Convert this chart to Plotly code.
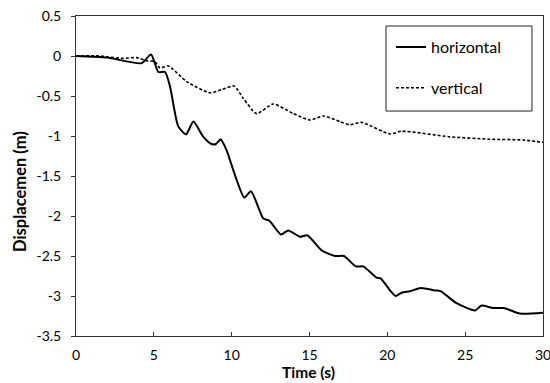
import plotly.graph_objects as go

# Horizontal displacement (m) vs time (s)
h_time = [0, 2.0, 4.22, 4.82, 5.29, 5.72, 6.04, 6.57, 7.07, 7.54, 8.18, 8.71, 8.99, 9.29,
          9.68, 9.89, 10.32, 10.81, 11.24, 12.03, 12.42, 13.17, 13.64, 14.39, 14.86, 15.78,
          16.63, 17.21, 17.98, 18.45, 19.31, 19.57, 20.17, 20.53, 20.92, 21.45, 22.16, 23.06,
          23.42, 24.45, 25.63, 26.05, 26.80, 27.49, 28.52, 30.0]
h_disp = [0, -0.02, -0.09, 0.02, -0.20, -0.20, -0.38, -0.88, -0.98, -0.82, -1.01, -1.10, -1.10, -1.04,
          -1.18, -1.30, -1.55, -1.77, -1.69, -2.03, -2.06, -2.23, -2.18, -2.26, -2.24, -2.43,
          -2.50, -2.50, -2.63, -2.63, -2.77, -2.78, -2.93, -3.00, -2.96, -2.94, -2.90, -2.93,
          -2.94, -3.09, -3.18, -3.12, -3.15, -3.15, -3.22, -3.21]

# Vertical displacement (m) vs time (s)
v_time = [0, 1.5, 3.0, 3.9, 4.54, 5.07, 5.39, 5.93, 7.11, 8.6, 9.36, 10.15, 10.75, 11.6,
          12.67, 13.96, 15.03, 15.88, 16.96, 17.55, 18.35, 20.17, 20.92, 24.02, 26.6,
          28.73, 30.0]
v_disp = [0, 0, -0.03, -0.02, -0.06, -0.07, -0.15, -0.125, -0.32, -0.46, -0.42, -0.375, -0.53, -0.72,
          -0.60, -0.72, -0.80, -0.75, -0.82, -0.86, -0.83, -0.975, -0.94, -1.01, -1.04,
          -1.05, -1.08]

x_ticks = [0, 5, 10, 15, 20, 25, 30]
y_ticks = [0.5, 0, -0.5, -1, -1.5, -2, -2.5, -3, -3.5]
y_tick_text = ["0.5", "0", "-0.5", "-1", "-1.5", "-2", "-2.5", "-3", "-3.5"]
x_title = "Time (s)"
y_title = "Displacemen (m)"

FONT = "Lato, 'Open Sans', sans-serif"

fig = go.Figure()
fig.add_trace(go.Scatter(x=h_time, y=h_disp, mode="lines", name="horizontal",
                         legendgroup="h",
                         line=dict(color="black", width=2, shape="spline", smoothing=0.6)))
fig.add_trace(go.Scatter(x=v_time, y=v_disp, mode="lines", name="vertical",
                         legendgroup="v",
                         line=dict(color="black", width=1.6, dash="3px,2px", shape="spline", smoothing=0.6)))

# legend frame
fig.add_shape(type="rect", xref="paper", yref="paper",
              x0=0.6638, x1=0.9764, y0=0.703, y1=0.96875,
              line=dict(color="#222", width=1), fillcolor="white", layer="below")

# axis titles
fig.add_annotation(text="<b>" + x_title + "</b>", xref="paper", yref="paper",
                   x=0.497, y=-0.1469, xanchor="center", yanchor="bottom",
                   showarrow=False, font=dict(family=FONT, size=15.5, color="black"))
fig.add_annotation(text="<b>" + y_title + "</b>", xref="paper", yref="paper",
                   x=-0.12, y=0.453, xanchor="center", yanchor="middle", textangle=-90,
                   showarrow=False, font=dict(family=FONT, size=16.5, color="black"))

fig.update_layout(
    width=550, height=383,
    margin=dict(l=76, r=7, t=16, b=47, autoexpand=False),
    paper_bgcolor="white", plot_bgcolor="white",
    font=dict(family=FONT, size=14, color="black"),
    showlegend=True,
    legend=dict(x=0.6745, y=0.956, xanchor="left", yanchor="top",
                borderwidth=0, bgcolor="rgba(0,0,0,0)",
                font=dict(family=FONT, size=16, color="black"),
                tracegroupgap=17, traceorder="grouped"),
    xaxis=dict(range=[0, 30], tickvals=x_ticks, ticks="inside", ticklen=4,
               tickcolor="#333", showgrid=False, zeroline=False, automargin=False,
               showline=True, linecolor="#333", linewidth=1, mirror=True,
               ticklabeloverflow="allow", ticklabelstandoff=6),
    yaxis=dict(range=[-3.5, 0.5], tickvals=y_ticks, ticktext=y_tick_text,
               ticks="outside", ticklen=4, tickcolor="#333", showgrid=False, automargin=False,
               zeroline=False, showline=True, linecolor="#333", linewidth=1, mirror=True,
               ticklabelstandoff=7),
)

fig.write_html("out.html")
